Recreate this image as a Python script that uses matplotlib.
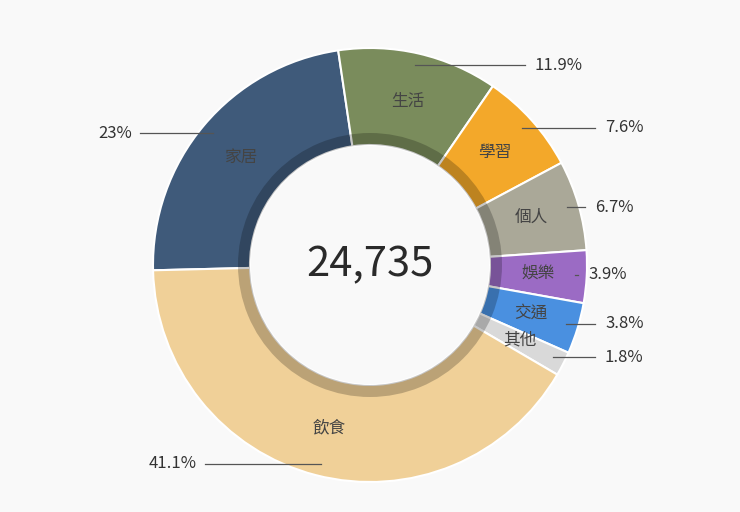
import numpy as np
import matplotlib.pyplot as plt

plt.rcParams['font.family'] = ['Noto Sans CJK TC', 'DejaVu Sans']

cats = ["家居", "生活", "學習", "個人", "娛樂", "交通", "其他", "飲食"]
pcts = [23.0, 11.9, 7.6, 6.7, 3.9, 3.8, 1.8, 41.1]
pct_labels = ["23%", "11.9%", "7.6%", "6.7%", "3.9%", "3.8%", "1.8%", "41.1%"]
total = "24,735"
colors = ["#3f5a7a", "#7a8c5c", "#f3a82a", "#aaa898", "#9b6bc4", "#4a90e0", "#d9d9d9", "#f0d098"]
# x where each leader line ends
line_end = [140, 525, 595, 585, 578, 595, 595, 205]

W, H = 740, 512
cx, cy = 370, H - 265
R, r_in = 217, 120
start = 181.4

fig = plt.figure(figsize=(7.4, 5.12), dpi=100)
fig.patch.set_facecolor("#f9f9f9")
ax = fig.add_axes([0, 0, 1, 1])
ax.set_xlim(0, W)
ax.set_ylim(0, H)
ax.set_aspect("equal")
ax.axis("off")

ax.pie(pcts, colors=colors, startangle=start, counterclock=False, center=(cx, cy),
       radius=R, wedgeprops=dict(width=R - r_in, edgecolor="white", linewidth=1.5), frame=True)
ax.pie([1], colors=["black"], center=(cx, cy), radius=r_in + 12,
       wedgeprops=dict(width=12, alpha=0.22, linewidth=0), frame=True)
ax.set_xlim(0, W)
ax.set_ylim(0, H)
ax.axis("off")

ax.text(cx, cy, total, ha="center", va="center", fontsize=30, color="#2a2a2a")

cum = 0
for i, (c, p) in enumerate(zip(cats, pcts)):
    mid = np.deg2rad(start - (cum + p / 2) * 3.6)
    cum += p
    lx, ly = cx + 168 * np.cos(mid), cy + 168 * np.sin(mid)
    ax.text(lx, ly, c, ha="center", va="center", fontsize=12, color="#444444")
    px, py = cx + 205 * np.cos(mid), cy + 205 * np.sin(mid)
    ex = line_end[i]
    ax.plot([px, ex], [py, py], color="#555555", lw=0.9)
    if ex > px:
        ax.text(ex + 10, py, pct_labels[i], ha="left", va="center", fontsize=12, color="#333333")
    else:
        ax.text(ex - 8, py, pct_labels[i], ha="right", va="center", fontsize=12, color="#333333")

fig.savefig("out.png", dpi=100, facecolor=fig.get_facecolor())
